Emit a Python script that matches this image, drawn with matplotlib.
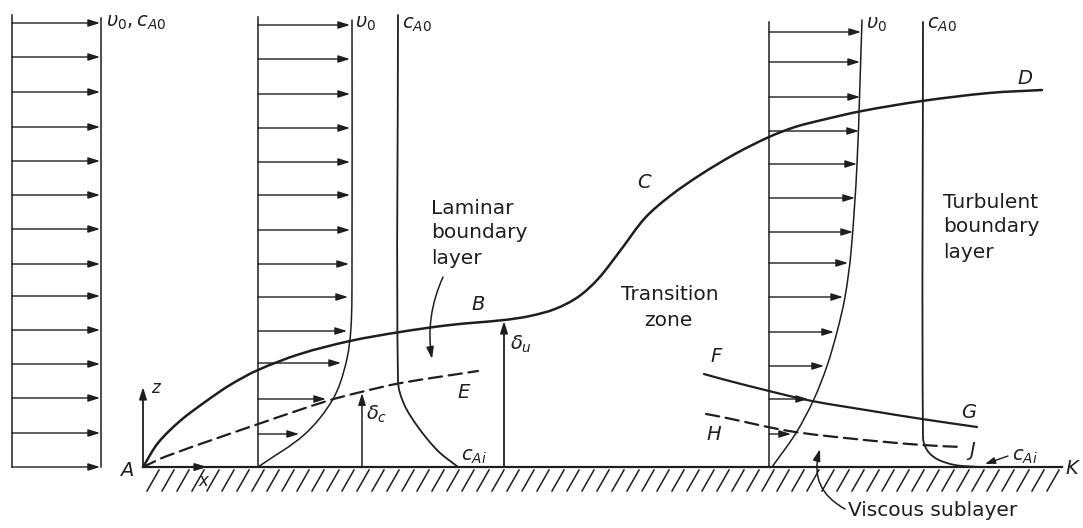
import numpy as np
import matplotlib.pyplot as plt
from matplotlib.path import Path
from matplotlib.patches import PathPatch

# heights above the wall (px) of the velocity arrows and where each arrow ends
z_uniform = [444, 410, 375, 340, 306, 272, 238, 203, 171, 137, 103, 69, 34, 0]
z_laminar = [442, 408, 373, 339, 305, 272, 237, 203, 170, 136, 104, 68, 33]
tip_laminar = [350, 350, 350, 350, 350, 350, 350, 349, 348, 347, 341, 326, 299]
z_turb = [435, 405, 370, 336, 303, 269, 235, 204, 170, 135, 101, 68, 33]
tip_turb = [861, 860, 860, 859, 857, 855, 853, 848, 843, 834, 824, 808, 791]

# velocity profile edges
lam_edge_x = [352, 352, 351, 346, 333, 305, 258]
lam_edge_z = [447, 200, 140, 104, 68, 33, 0]
turb_edge_x = [862, 857, 851, 845, 837, 827, 814, 796, 772]
turb_edge_z = [447, 303, 215, 170, 135, 101, 68, 34, 0]

# concentration profiles
conc_lam_x = [398, 398, 404, 418, 438, 458]
conc_lam_z = [452, 86, 63, 40, 16, 0]
conc_turb_x = [923, 923, 927, 937, 955, 979]
conc_turb_z = [445, 30, 17, 8, 2, 0]

# boundary layer edge A-B-C-D
abcd_x = [143, 158, 180, 205, 230, 258, 300, 350, 400, 450, 504, 530, 555, 578,
          598, 620, 645, 670, 700, 735, 769, 795, 822, 862, 922, 989, 1042]
abcd_z = [0, 24, 46, 65, 82, 97, 113, 126, 135, 142, 147, 151, 158, 170,
          188, 216, 249, 271, 292, 313, 330, 340, 347, 356, 366, 374, 377]

# concentration layer edge A-E
ae_x = [143, 167, 267, 327, 361, 401, 478]
ae_z = [0, 11, 46, 66, 75, 84, 96]

# viscous sublayer lines F-G (velocity) and H-J (concentration)
fg_x = [704, 722, 769, 812, 872, 922, 977]
fg_z = [93, 88, 76, 66, 56, 48, 40]
hj_x = [706, 722, 789, 855, 922, 962]
hj_z = [53, 50, 36, 28, 22, 20]

ink = '#1e1e1e'
plt.rcParams['font.family'] = ['DejaVu Sans']
plt.rcParams['mathtext.fontset'] = 'dejavusans'

fig = plt.figure(figsize=(10.83, 5.28), dpi=100)
ax = fig.add_axes([0, 0, 1, 1])
ax.set_xlim(0, 1083)
ax.set_ylim(-61, 467)
ax.axis('off')

head = '-|>,head_length=0.7,head_width=0.22'


def smooth(xs, zs, **kw):
    # smooth bezier path through the points, tangents from neighbouring points
    p = np.column_stack([xs, zs]).astype(float)
    tang = np.zeros_like(p)
    tang[0] = p[1] - p[0]
    tang[-1] = p[-1] - p[-2]
    tang[1:-1] = p[2:] - p[:-2]
    tang /= np.linalg.norm(tang, axis=1)[:, None]
    verts = [p[0]]
    codes = [Path.MOVETO]
    for i in range(len(p) - 1):
        d = np.linalg.norm(p[i + 1] - p[i]) / 3
        verts += [p[i] + tang[i] * d, p[i + 1] - tang[i + 1] * d, p[i + 1]]
        codes += [Path.CURVE4] * 3
    ax.add_patch(PathPatch(Path(verts, codes), fill=False, color=ink,
                           capstyle='round', **kw))


def arrow(start, end, lw=1.0, style=head, conn='arc3'):
    ax.annotate('', xy=end, xytext=start,
                arrowprops=dict(arrowstyle=style, color=ink, lw=lw,
                                shrinkA=0, shrinkB=0, connectionstyle=conn))


# wall and hatching
ax.plot([143, 1062], [0, 0], color=ink, lw=1.6)
for hx in np.arange(147, 1052, 15):
    ax.plot([hx, hx + 12], [-24, -3], color=ink, lw=1.1)

# uniform profile at the leading edge
ax.plot([12, 12], [452, 0], color=ink, lw=1.1)
ax.plot([101, 101], [449, 0], color=ink, lw=1.1)
for z in z_uniform:
    arrow((12, z), (100, z))

# laminar profile
ax.plot([258, 258], [450, 0], color=ink, lw=1.1)
smooth(lam_edge_x, lam_edge_z, lw=1.1)
for z, t in zip(z_laminar, tip_laminar):
    arrow((258, z), (t, z))
smooth(conc_lam_x, conc_lam_z, lw=1.3)

# turbulent profile
ax.plot([769, 769], [445, 0], color=ink, lw=1.1)
smooth(turb_edge_x, turb_edge_z, lw=1.1)
for z, t in zip(z_turb, tip_turb):
    arrow((769, z), (t, z))
smooth(conc_turb_x, conc_turb_z, lw=1.3)

# layer edges
smooth(abcd_x, abcd_z, lw=1.8)
smooth(ae_x, ae_z, lw=1.6, linestyle=(0, (6, 3)))
smooth(fg_x, fg_z, lw=1.6)
smooth(hj_x, hj_z, lw=1.6, linestyle=(0, (6, 3)))

# coordinate axes at A
arrow((143, 0), (207, 0), lw=1.3)
arrow((143, 0), (143, 80), lw=1.3)

# thickness arrows
arrow((362, 0), (362, 74), lw=1.1)
arrow((504, 0), (504, 146), lw=1.3)

# curved pointer arrows
arrow((443, 190), (432, 108), lw=1.1, conn='arc3,rad=0.15')
arrow((845, -42), (820, 18), lw=1.1, conn='arc3,rad=-0.4')
arrow((1008, 11), (985, 3), lw=1.0, style='-|>,head_length=0.6,head_width=0.2')

# point letters
letters = ['A', 'B', 'C', 'D', 'E', 'F', 'G', 'H', 'J', 'K']
letter_x = [127, 478, 644, 1025, 464, 716, 969, 714, 972, 1072]
letter_z = [-4, 163, 284, 389, 75, 111, 55, 33, 16, -1]
for s, lx, lz in zip(letters, letter_x, letter_z):
    ax.text(lx, lz, s, fontsize=14, style='italic', color=ink, ha='center', va='center')

ax.text(155, 79, 'z', fontsize=12, style='italic', color=ink, ha='center', va='center')
ax.text(203, -14, 'x', fontsize=12, style='italic', color=ink, ha='center', va='center')

sym = dict(fontsize=14, color=ink, va='center', ha='left')
ax.text(106, 444, r'$\upsilon_0, c_{A0}$', **sym)
ax.text(355, 443, r'$\upsilon_0$', **sym)
ax.text(402, 442, r'$c_{A0}$', **sym)
ax.text(866, 442, r'$\upsilon_0$', **sym)
ax.text(927, 442, r'$c_{A0}$', **sym)
ax.text(366, 53, r'$\delta_c$', **sym)
ax.text(510, 123, r'$\delta_u$', **sym)
ax.text(461, 11, r'$c_{Ai}$', **sym)
ax.text(1012, 11, r'$c_{Ai}$', **sym)

# region labels
lab = dict(fontsize=14.5, color=ink, va='center')
for i, s in enumerate(['Laminar', 'boundary', 'layer']):
    ax.text(431, 259 - 25 * i, s, ha='left', **lab)
for i, s in enumerate(['Turbulent', 'boundary', 'layer']):
    ax.text(943, 265 - 25 * i, s, ha='left', **lab)
ax.text(670, 172, 'Transition', ha='center', **lab)
ax.text(668, 146, 'zone', ha='center', **lab)
ax.text(933, -44, 'Viscous sublayer', ha='center', **lab)

fig.savefig('out.png', dpi=100, facecolor='white')
